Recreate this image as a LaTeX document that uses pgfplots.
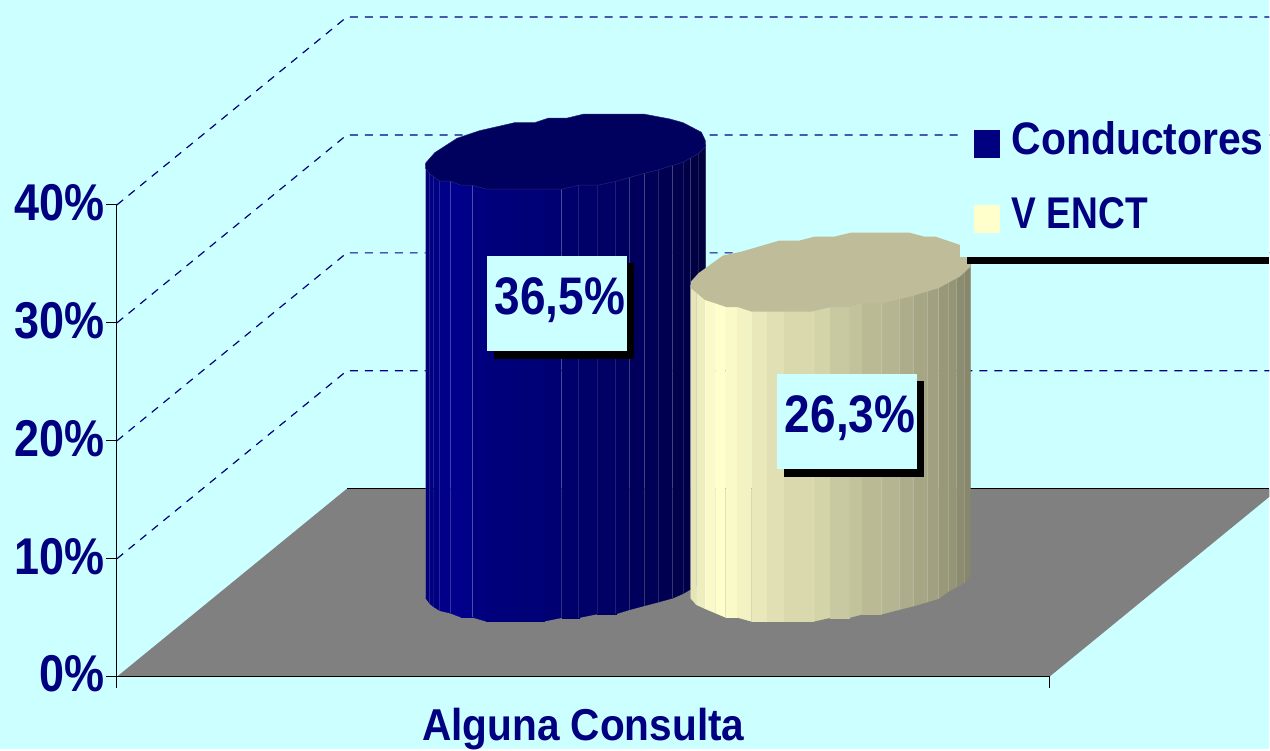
\documentclass[border=0pt]{standalone}
\usepackage{pgfplots}
\pgfplotsset{compat=1.18}
\usepackage{fontspec}
\setmainfont{Liberation Sans}
\definecolor{bg}{HTML}{CCFFFF}
\definecolor{nv}{HTML}{000080}
\definecolor{nvb}{HTML}{00008C}
\definecolor{nvtop}{HTML}{00005F}
\definecolor{cr}{HTML}{FFFFCC}
\definecolor{crtop}{HTML}{BFBD99}
\definecolor{floor}{HTML}{808080}
% text stretched vertically, as in the reference
\newcommand\stxt[2]{\scalebox{1}[1.15]{\fontsize{#1}{#1}\selectfont\bfseries\color{nv}#2}}
\newcommand\facet[6]{%
  \pgfmathsetmacro\ya{(677-#2)/11.8}%
  \pgfmathsetmacro\yb{(677-#4)/11.8}%
  \pgfmathsetmacro\yat{\ya+\cval+0.25}%
  \pgfmathsetmacro\ybt{\yb+\cval+0.25}%
  \edef\tmp{\noexpand\addplot[fill=\ccol!#5!black,draw=\ccol!#5!black,line width=.3pt,forget plot] coordinates {(#1,\ya)(#3,\yb)(#3,\ybt)(#1,\yat)};
  \noexpand\addplot[white,draw opacity=#6,line width=.7pt,forget plot] coordinates {(#1,\ya)(#1,\yat)};}%
  \tmp
}
\begin{document}
\begin{tikzpicture}
\begin{axis}[
  scale only axis, width=933pt, height=472pt,
  xmin=117, xmax=1050, ymin=0, ymax=40,
  clip=false, axis on top,
  axis x line*=bottom, axis y line*=left,
  axis line style={black,line width=1pt,-},
  tick style={black,line width=1pt},
  tick align=outside, major tick length=11pt,
  xtick={117,1050}, xticklabels={,},
  ytick={0,10,20,30,40},
  yticklabels={\stxt{45}{0\%},\stxt{45}{10\%},\stxt{45}{20\%},\stxt{45}{30\%},\stxt{45}{40\%}},
  yticklabel style={inner sep=1pt,yshift=2.5pt},
  xlabel={\scalebox{1}[1.1]{\fontsize{40.6}{42}\selectfont\bfseries\color{nv}Alguna Consulta}},
  xlabel style={at={(axis description cs:0.5,-0.112)},anchor=center,inner sep=0pt},
  px/.style={y filter/.expression={(677-y)/11.8},forget plot},
  grd/.style={px,nv,line width=1.2pt,dash pattern=on 8pt off 7pt},
]
% background
\addplot[px,fill=bg,draw=none] coordinates {(0,0)(1270,0)(1270,749)(0,749)};
% walls
\addplot[grd] coordinates {(117,559)(347,371)(1270,371)};
\addplot[grd] coordinates {(117,441)(347,253)(1270,253)};
\addplot[grd] coordinates {(117,323)(347,135)(1270,135)};
\addplot[grd] coordinates {(117,205)(347,17)(1270,17)};
% floor
\addplot[px,fill=floor,draw=none] coordinates {(117,677)(347,489)(1270,489)(1270,497)(1050,677)};
\addplot[px,black,line width=1pt] coordinates {(347,489)(1270,489)};
% Conductores: 36.5
\def\cval{36.5}\def\ccol{nvb}
\facet{425.7}{598}{430}{604}{88}{0.12}
\facet{430}{604}{433.7}{607}{92}{0.15}
\facet{433.7}{607}{440}{611}{94}{0}
\facet{440}{611}{450.7}{613.5}{98}{0.15}
\facet{450.7}{613.5}{461}{617.5}{100}{0.15}
\facet{461}{617.5}{472.3}{617.5}{98}{0}
\facet{472.3}{617.5}{486}{621.5}{92}{0.3}
\facet{486}{621.5}{515}{621.5}{88}{0}
\facet{515}{621.5}{544.5}{621.5}{85}{0}
\facet{544.5}{621.5}{562}{618}{82}{0}
\facet{562}{618}{579}{618}{78}{0.1}
\facet{579}{618}{597.5}{614.3}{75}{0.12}
\facet{597.5}{614.3}{616}{614.3}{72}{0.1}
\facet{616}{614.3}{630}{610}{69}{0.12}
\facet{630}{610}{645}{606}{66}{0.12}
\facet{645}{606}{658.3}{602.5}{62}{0.15}
\facet{658.3}{602.5}{673}{598.5}{58}{0.15}
\facet{673}{598.5}{683.3}{594}{55}{0.15}
\facet{683.3}{594}{691}{589.5}{52}{0.12}
\facet{691}{589.5}{698.3}{585}{48}{0.12}
\facet{698.3}{585}{705.7}{578.5}{45}{0.12}
\addplot[px,fill=nvtop,draw=nvtop!85!white,line width=.5pt] coordinates {
 (425.7,163.3)(435,152.7)(457.3,138.3)(480,130.7)(515,122.7)(535,122.7)(548.3,118.3)(566.7,118.3)
 (583.3,114.3)(645,114.3)(670,119)(683.3,122.7)(701.7,132.3)(705.7,140.7)(705.7,146.7)(698.3,154)
 (683.3,162.3)(658.3,170)(645,173.3)(615,181.7)(598.3,185.3)(579,185.3)(562.3,189.3)(544.3,189.3)
 (486.7,189.3)(472.3,185.3)(461,185.3)(450.7,181.3)(440,181.3)(430,174)(425.7,168.3)(425.7,163.3)};
% V ENCT: 26.3
\def\cval{26.3}\def\ccol{cr}
\facet{690.9}{598.3}{696.6}{605}{90}{0.15}
\facet{696.6}{605}{705.4}{609}{93}{0.25}
\facet{705.4}{609}{716}{613.5}{98}{0.3}
\facet{716}{613.5}{726}{617.7}{100}{0.25}
\facet{726}{617.7}{737.5}{617.7}{98}{0}
\facet{737.5}{617.7}{752}{621.7}{95}{0}
\facet{752}{621.7}{767.4}{621.7}{91}{0}
\facet{767.4}{621.7}{784.6}{621.7}{88}{0}
\facet{784.6}{621.7}{814}{621.7}{85}{0}
\facet{814}{621.7}{830.5}{618}{83}{0.15}
\facet{830.5}{618}{849.7}{618}{79}{0}
\facet{849.7}{618}{862.3}{614.7}{76}{0}
\facet{862.3}{614.7}{881.4}{614.7}{73}{0}
\facet{881.4}{614.7}{899.4}{610}{71}{0.2}
\facet{899.4}{610}{913.6}{606.5}{68}{0.2}
\facet{913.6}{606.5}{927.4}{602.5}{65}{0.2}
\facet{927.4}{602.5}{938.8}{599}{63}{0.2}
\facet{938.8}{599}{949.2}{591.7}{60}{0.2}
\facet{949.2}{591.7}{956.8}{587.5}{58}{0.15}
\facet{956.8}{587.5}{964.5}{583.3}{55}{0.15}
\facet{964.5}{583.3}{971}{576}{53}{0.15}
\addplot[px,fill=crtop,draw=none] coordinates {
 (691.3,281.7)(698.8,273.3)(723.3,255.7)(742,251.7)(779.7,240.7)(799.6,240.7)(815.4,236.7)(835,236.7)
 (851.6,232.7)(909.5,232.7)(924.5,236.7)(935.8,236.7)(960.3,245)(971,265)(971,266.7)(960.3,276.7)
 (938.8,288.3)(913.3,296)(900,299.3)(882,303.3)(863.2,303.3)(848.2,307.3)(830.5,307.3)(812.4,311.7)
 (751.5,311.7)(738.3,307.3)(727,307.3)(705.2,300)(691.3,288.3)(691.3,281.7)};
% data label boxes
\addplot[px,fill=black,draw=none] coordinates {(494,263.5)(634,263.5)(634,359)(494,359)};
\addplot[px,fill=bg,draw=none] coordinates {(487,256)(627,256)(627,351)(487,351)};
\addplot[px,fill=black,draw=none] coordinates {(784,381.5)(924,381.5)(924,477)(784,477)};
\addplot[px,fill=bg,draw=none] coordinates {(777,374)(917,374)(917,469)(777,469)};
\node[inner sep=0pt,anchor=center] at (axis cs:560,{(677-300.5)/11.8}) {\stxt{46}{36,5\%}};
\node[inner sep=0pt,anchor=center] at (axis cs:850.5,{(677-418.5)/11.8}) {\stxt{46}{26,3\%}};
% legend box
\addplot[px,fill=black,draw=none] coordinates {(967,257)(1270,257)(1270,264)(967,264)};
\addplot[px,fill=bg,draw=none] coordinates {(960,60)(1270,60)(1270,257)(960,257)};
\addplot[px,fill=nv,draw=none] coordinates {(974,130)(1000,130)(1000,158)(974,158)};
\addplot[px,fill=cr,draw=none] coordinates {(974,205)(1000,205)(1000,233)(974,233)};
\node[inner sep=0pt,anchor=base west] at (axis cs:1012,{(677-155)/11.8}) {\resizebox{252pt}{33pt}{\bfseries\color{nv}Conductores}};
\node[inner sep=0pt,anchor=base west] at (axis cs:1012,{(677-229)/11.8}) {\resizebox{136pt}{31pt}{\bfseries\color{nv}V ENCT}};
\end{axis}
\end{tikzpicture}
\end{document}
